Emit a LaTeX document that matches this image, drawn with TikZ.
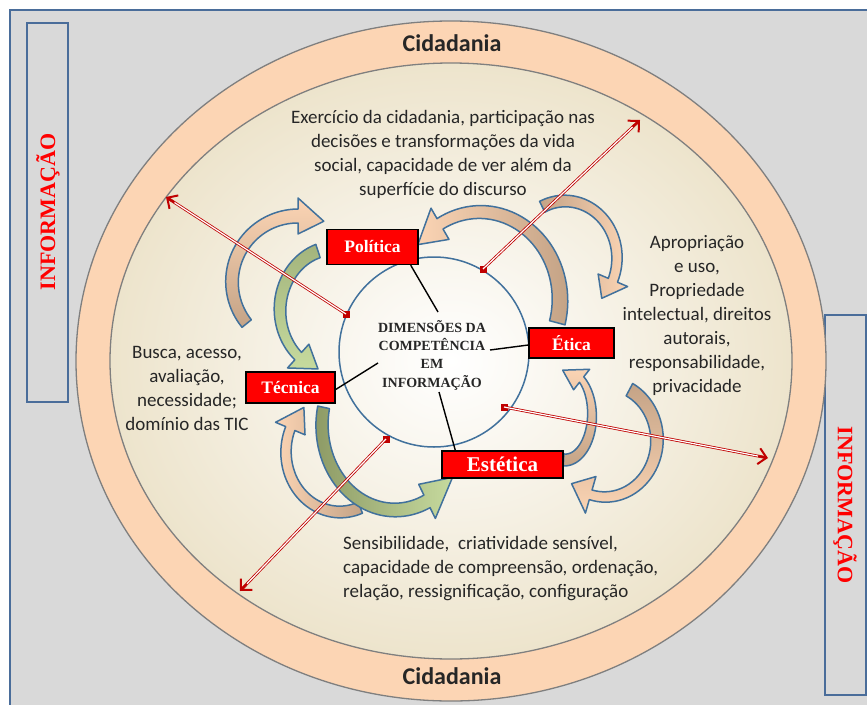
\documentclass[tikz,border=0pt]{standalone}
\usepackage{fontspec}
\setmainfont{Liberation Serif}
\newfontfamily\calfont{Carlito}
\usetikzlibrary{arrows.meta,calc}
\definecolor{ringpeach}{HTML}{FCD5B4}
\definecolor{bggray}{HTML}{D9D9D9}
\definecolor{frameblue}{HTML}{4A6D9A}
\definecolor{arrblue}{HTML}{41719C}
\definecolor{cpeach}{HTML}{FBD4B4}
\definecolor{ctan}{HTML}{C4A386}
\definecolor{glight}{HTML}{C6DA9E}
\definecolor{golive}{HTML}{A3B47C}
\definecolor{golivedark}{HTML}{8E9B66}
\definecolor{beige}{HTML}{EDE4CC}
\definecolor{dred}{HTML}{C00000}
\definecolor{ringline}{HTML}{7F7F7F}
\definecolor{txt}{HTML}{262626}
\newcommand{\carrow}[8][]{%
 \path[arrshape,#1]
 plot[domain=#6:#7,samples=40] ({#2+(#4+\caw+(\cawb-\caw)*(\x-(#6))/((#7)-(#6)))*cos(\x)},{#3+(#5+\caw+(\cawb-\caw)*(\x-(#6))/((#7)-(#6)))*sin(\x)})
 -- ({#2+(#4+\cah)*cos(#7)},{#3+(#5+\cah)*sin(#7)})
 -- ({#2+(#4)*cos(#8)},{#3+(#5)*sin(#8)})
 -- ({#2+(#4-\cah)*cos(#7)},{#3+(#5-\cah)*sin(#7)})
 -- plot[domain=#7:#6,samples=40] ({#2+(#4-\caw-(\cawb-\caw)*(\x-(#6))/((#7)-(#6)))*cos(\x)},{#3+(#5-\caw-(\cawb-\caw)*(\x-(#6))/((#7)-(#6)))*sin(\x)})
 -- cycle;}
\begin{document}
\begin{tikzpicture}[x=1pt,y=-1pt,
 redbox/.style={draw=black, line width=1.4pt, fill=red, text=white, inner sep=0pt},
 arrshape/.style={draw=arrblue, line width=1.5pt, line join=round},
 body/.style={font=\calfont\fontsize{19}{24}\selectfont, text=txt, align=center, inner sep=0pt},
 conn/.style={draw=black, line width=1.4pt},
 redline/.style={draw=dred, line width=0.8pt, double=white, double distance=1.2pt},
 redtip/.style={draw=dred, line width=2pt, -{Straight Barb[length=8pt,width=16pt]}},
 sq/.style={fill=dred, draw=none, minimum size=7pt, inner sep=0pt},
 infotext/.style={font=\bfseries\fontsize{22}{22}\selectfont, text=red, inner sep=0pt},
 cidtext/.style={font=\calfont\bfseries\fontsize{24}{24}\selectfont, text=txt, inner sep=0pt}]
\useasboundingbox (0,0) rectangle (867,704);
\clip (0,0) rectangle (867,704);
\fill[white] (0,0) rectangle (867,704);
\draw[frameblue, line width=1.5pt, fill=bggray] (10,10) rectangle (900,740);
\draw[frameblue, line width=1.5pt] (27,23) rectangle (68,402);
\draw[frameblue, line width=1.5pt] (825,315) rectangle (866,695);
\node[infotext, rotate=90] (infl) at (48,212) {INFORMAÇÃO};
\node[infotext, rotate=-90] (infr) at (845,505) {INFORMAÇÃO};
% ring
\draw[ringline, line width=1.3pt, fill=ringpeach] (451,361) ellipse [x radius=375, y radius=340];
\shade[inner color=white, outer color=beige] (451,361) ellipse [x radius=341, y radius=298];
\draw[ringline, line width=1.3pt] (451,361) ellipse [x radius=341, y radius=298];
\node[cidtext] (cidtop) at (452,43) {Cidadania};
\node[cidtext] (cidbot) at (452,676) {Cidadania};
% central circle
\draw[arrblue, line width=1.5pt] (434,352) circle [radius=95];
% curved arrows
\def\caw{6}\def\cawb{7}\def\cah{18}
\carrow[top color=cpeach, bottom color=ctan]{298}{282}{66}{66}{141}{270}{293}
\def\caw{7}\def\cawb{5}\def\cah{16}
\carrow[top color=golive, bottom color=glight]{335}{310}{55}{62}{252}{132}{108}
\def\caw{8}\def\cawb{6}\def\cah{18}
\carrow[left color=cpeach, right color=ctan]{480}{300}{80}{88}{15}{-120}{-141}
\def\caw{6}\def\cawb{5}\def\cah{16}
\carrow[left color=ctan, right color=cpeach]{565}{258}{52}{57}{-116}{23}{45}
\def\caw{7}\def\cawb{5}\def\cah{19}
\carrow[top color=ctan, bottom color=cpeach]{605}{440}{52}{57}{-62}{106}{130}
\def\caw{6}\def\cawb{3.5}\def\cah{13}
\carrow[bottom color=ctan, top color=cpeach]{565}{415}{27}{45}{93}{-52}{-95}
\def\caw{6}\def\cawb{5}\def\cah{16}
\carrow[left color=cpeach, right color=ctan]{340}{452}{54}{60}{68}{203}{228}
\def\caw{6}\def\cawb{7}\def\cah{19}
\carrow[left color=golivedark, right color=glight]{395}{425}{73}{85}{192}{64}{38}
% red arrows
\node[sq] (s1) at (346,314) {};
\node[sq] (s2) at (483,269) {};
\node[sq] (s3) at (504,407) {};
\node[sq] (s4) at (386,439) {};
\coordinate (t1) at (166,197);
\coordinate (t2) at (640,120);
\coordinate (t3) at (768,458);
\coordinate (t4) at (240,591);
\foreach \i in {1,2,3,4}{
 \draw[redline, shorten >=2pt] (s\i.center) -- (t\i);
 \draw[redtip] ($(t\i)!10pt!(s\i)$) -- (t\i);
}
% boxes
\node[redbox, minimum width=91pt, minimum height=35pt, font=\bfseries\fontsize{17.5}{17.5}\selectfont] (pol) at (372.5,247) {Política};
\node[redbox, minimum width=89pt, minimum height=31pt, font=\bfseries\fontsize{17.5}{17.5}\selectfont] (tec) at (290.5,387.5) {Técnica};
\node[redbox, minimum width=85pt, minimum height=30pt, font=\bfseries\fontsize{17.5}{17.5}\selectfont] (eti) at (571.5,343) {Ética};
\node[redbox, minimum width=121pt, minimum height=27pt, font=\bfseries\fontsize{21}{21}\selectfont] (est) at (502.5,464.5) {Estética};
% centre text and connectors
\node[font=\bfseries\fontsize{14}{18.3}\selectfont, align=center, text=txt, inner sep=0pt] (dim) at (432,355) {DIMENSÕES DA\\COMPETÊNCIA\\EM\\INFORMAÇÃO};
\coordinate (cp) at (438,312);
\coordinate (ct) at (378,363);
\coordinate (ce) at (490,350);
\coordinate (cs) at (439,392);
\draw[conn] (cp) -- ($(pol.south east)+(-8,0)$);
\draw[conn] (ct) -- ($(tec.east)+(0,2)$);
\draw[conn] (ce) -- ($(eti.west)+(0,2)$);
\draw[conn] (cs) -- ($(est.north west)+(14,0)$);
% texts
\node[body] (ttop) at (443,154) {Exercício da cidadania, participação nas\\decisões e transformações da vida\\social, capacidade de ver além da\\superfície do discurso};
\node[body] (tright) at (697,315) {Apropriação\\e uso,\\Propriedade\\intelectual, direitos\\autorais,\\responsabilidade,\\privacidade};
\node[body] (tleft) at (187,388) {Busca, acesso,\\avaliação,\\necessidade;\\domínio das TIC};
\node[body, align=left, anchor=west] (tbot) at (343,569) {Sensibilidade,\ \ criatividade sensível,\\capacidade de compreensão, ordenação,\\relação, ressignificação, configuração};
\end{tikzpicture}
\end{document}
